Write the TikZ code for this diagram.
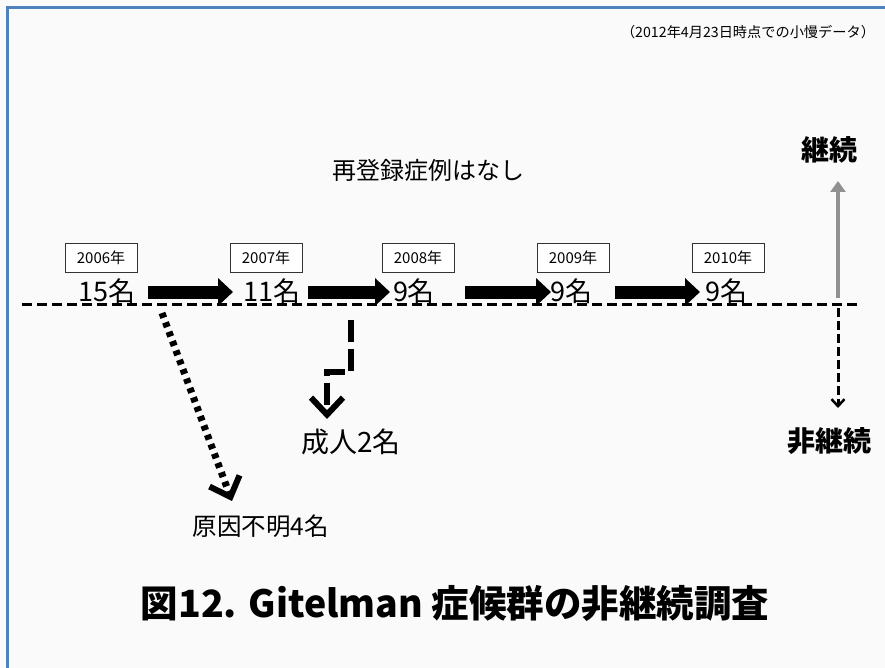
\documentclass[tikz,border=0pt]{standalone}
\usepackage{fontspec}
\setmainfont{Noto Sans CJK JP}
\usetikzlibrary{arrows.meta}
\definecolor{frameblue}{RGB}{79,129,189}
\definecolor{bgcol}{RGB}{250,250,250}
\definecolor{arrgray}{RGB}{145,145,145}
\tikzset{
  yearbox/.style={draw=black!80, line width=0.6pt, fill=white, minimum width=72pt, minimum height=29pt, inner sep=0pt, font=\fontsize{15pt}{15pt}\selectfont},
  countlbl/.style={inner sep=0pt, font=\fontsize{27pt}{27pt}\selectfont},
  bigarrow/.style={line width=13pt, -{Triangle[length=15pt,width=27pt]}},
  baseline/.style={line width=3pt, dash pattern=on 10pt off 5pt},
  chevron/.style={-{Straight Barb[length=17pt,width=32pt,line width=6pt]}},
  lbl/.style={inner sep=0pt}
}
\begin{document}
\begin{tikzpicture}[x=1pt,y=-1pt]
\useasboundingbox (0,0) rectangle (885,668);
\fill[bgcol] (0,0) rectangle (885,668);
\draw[frameblue, line width=2.5pt] (7.5,668) -- (7.5,7.5) -- (885,7.5);

% note
\node[lbl, font=\fontsize{14.2pt}{14pt}\selectfont] (note) at (748,32) {（2012年4月23日時点での小慢データ）};
\node[lbl, font=\fontsize{24pt}{24pt}\selectfont] (rereg) at (428,170) {再登録症例はなし};

% baseline
\coordinate (bl0) at (22,304);
\coordinate (bl1) at (860,304);
\draw[baseline] (bl0) -- (bl1);

% years
\node[yearbox] (y6) at (101,258) {2006年};
\node[yearbox] (y7) at (266,258) {2007年};
\node[yearbox] (y8) at (418,258) {2008年};
\node[yearbox] (y9) at (573,258) {2009年};
\node[yearbox] (y10) at (728,258) {2010年};

% counts
\node[countlbl] (c6) at (107,291) {15名};
\node[countlbl] (c7) at (272,291) {11名};
\node[countlbl] (c8) at (414,291) {9名};
\node[countlbl] (c9) at (571,291) {9名};
\node[countlbl] (c10) at (726,291) {9名};

\coordinate (s1) at (148,292); \coordinate (e1) at (233,292);
\coordinate (s2) at (308,292); \coordinate (e2) at (390,292);
\coordinate (s3) at (465,292); \coordinate (e3) at (551,292);
\coordinate (s4) at (615,292); \coordinate (e4) at (700,292);
\draw[bigarrow] (s1) -- (e1);
\draw[bigarrow] (s2) -- (e2);
\draw[bigarrow] (s3) -- (e3);
\draw[bigarrow] (s4) -- (e4);

% continue / discontinue
\node[lbl, font=\fontsize{28pt}{28pt}\selectfont\bfseries] (cont) at (829,150) {継続};
\node[lbl, font=\fontsize{28pt}{28pt}\selectfont\bfseries] (ncont) at (829,441) {非継続};
\coordinate (up0) at (838,298);
\coordinate (up1) at (838,181);
\coordinate (dn0) at (838,308);
\coordinate (dn1) at (838,408);
\draw[arrgray, line width=4pt, -{Triangle[length=11pt,width=15pt]}] (up0) -- (up1);
\draw[line width=3pt, dash pattern=on 9pt off 4pt, -{Straight Barb[length=7pt,width=13pt,line width=2.5pt]}] (dn0) -- (dn1);

% dropouts
\node[lbl, font=\fontsize{28pt}{28pt}\selectfont] (adult) at (351,442) {成人2名};
\node[lbl, font=\fontsize{24.5pt}{24pt}\selectfont] (unk) at (261,526) {原因不明4名};
\coordinate (d1) at (162,313);
\coordinate (d2) at (232,501);
\draw[line width=7pt, dash pattern=on 5pt off 5pt, chevron] (d1) -- (d2);
\coordinate (a1) at (351,320);
\coordinate (a2) at (351,372);
\coordinate (a3) at (327,372);
\coordinate (a4) at (327,419);
\draw[line width=6pt, dash pattern=on 22pt off 7pt, chevron] (a1) -- (a2) -- (a3) -- (a4);

% title
\node[lbl, font=\fontsize{37.5pt}{37pt}\selectfont\bfseries] (title) at (455,603) {図12. Gitelman 症候群の非継続調査};
\end{tikzpicture}
\end{document}
